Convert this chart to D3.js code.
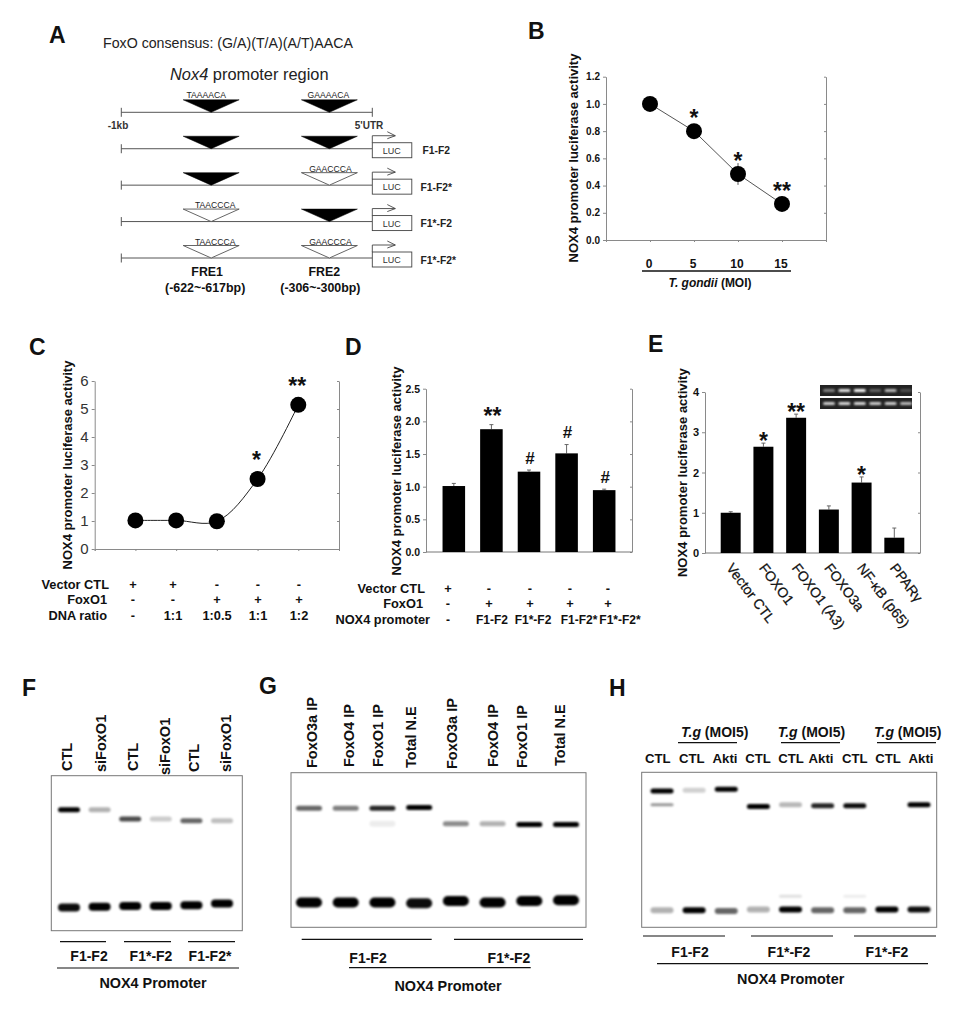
<!DOCTYPE html>
<html>
<head>
<meta charset="utf-8">
<script src="https://cdn.jsdelivr.net/npm/d3@7"></script>
<style>
  body { margin: 0; background: #fff; }
  svg { display: block; }
  text { font-family: "Liberation Sans", Arial, sans-serif; fill: #111; }
  .b { font-weight: bold; }
</style>
</head>
<body>
<div id="chart"></div>
<script>
// panel A: promoter constructs
const siteBp = [-642, -171];
const constructs = ['F1-F2', 'F1-F2*', 'F1*-F2', 'F1*-F2*'];
const site1Wild = [true, true, false, false];
const site2Wild = [true, false, true, false];
const wildSeqs = ['TAAAACA', 'GAAAACA'];
const mutSeqs = ['TAACCCA', 'GAACCCA'];
const freNames = ['FRE1', 'FRE2'];
const freRanges = ['(-622~-617bp)', '(-306~-300bp)'];

// panel B
const bCats = ['0', '5', '10', '15'];
const bValues = [1.0, 0.8, 0.485, 0.265];
const bErrors = [0.01, 0.01, 0.08, 0.01];
const bSig = ['', '*', '*', '**'];
const bTicks = [0, 0.2, 0.4, 0.6, 0.8, 1.0, 1.2];

// panel C
const cCats = ['c1', 'c2', 'c3', 'c4', 'c5'];
const cValues = [1.02, 1.02, 0.99, 2.5, 5.15];
const cSig = ['', '', '', '*', '**'];
const cTicks = [0, 1, 2, 3, 4, 5, 6];
const cRowNames = ['Vector CTL', 'FoxO1', 'DNA ratio'];
const cVector = ['+', '+', '-', '-', '-'];
const cFoxo = ['-', '-', '+', '+', '+'];
const cRatio = ['-', '1:1', '1:0.5', '1:1', '1:2'];

// panel D
const dCats = ['d1', 'd2', 'd3', 'd4', 'd5'];
const dValues = [1.01, 1.88, 1.23, 1.51, 0.947];
const dErrors = [0.04, 0.07, 0.025, 0.135, 0.015];
const dSig = ['', '**', '#', '#', '#'];
const dTicks = [0, 0.5, 1.0, 1.5, 2.0, 2.5];
const dRowNames = ['Vector CTL', 'FoxO1', 'NOX4 promoter'];
const dVector = ['+', '-', '-', '-', '-'];
const dFoxo = ['-', '+', '+', '+', '+'];
const dPromoter = ['-', 'F1-F2', 'F1*-F2', 'F1-F2*', 'F1*-F2*'];

// panel E
const eCats = ['Vector CTL', 'FOXO1', 'FOXO1 (A3)', 'FOXO3a', 'NF-\u03BAB (p65)', 'PPAR\u03B3'];
const eValues = [1.0, 2.64, 3.36, 1.08, 1.75, 0.38];
const eErrors = [0.025, 0.09, 0.09, 0.09, 0.14, 0.24];
const eSig = ['', '*', '**', '', '*', ''];
const eTicks = [0, 1, 2, 3, 4];
const eInsetTop = [0.45, 0.9, 1, 0.3, 0.7, 0.2];
const eInsetBottom = [0.8, 0.85, 0.85, 0.8, 0.8, 0.7];

// panel F gel (migration in % of gel height)
const fLanes = ['CTL', 'siFoxO1', 'CTL', 'siFoxO1', 'CTL', 'siFoxO1'];
const fUpperMig = [22, 22, 28, 28, 29, 29];
const fUpper = [1, 0.3, 0.7, 0.2, 0.6, 0.25];
const fLowerMig = [85, 84.5, 84, 84, 83.5, 82.5];
const fLower = [0.95, 1, 1, 1, 1, 1];
const fGroups = ['F1-F2', 'F1*-F2', 'F1-F2*'];

// panel G gel
const gLanes = ['FoxO3a IP', 'FoxO4 IP', 'FoxO1 IP', 'Total N.E', 'FoxO3a IP', 'FoxO4 IP', 'FoxO1 IP', 'Total N.E'];
const gUpperMig = [23, 23, 23, 22.5, 33, 33, 33.5, 33.5];
const gUpper = [0.6, 0.5, 0.85, 1, 0.45, 0.3, 1, 1];
const gLowerMig = [84, 84, 84, 84.5, 83, 84, 83, 82.5];
const gLower = [1, 1, 1, 0.95, 1, 1, 1, 1];
const gFaintMig = [0, 0, 33, 0, 0, 0, 0, 0];
const gFaint = [0, 0, 0.07, 0, 0, 0, 0, 0];
const gGroups = ['F1-F2', 'F1*-F2'];

// panel H gel
const hLanes = ['CTL', 'CTL', 'Akti', 'CTL', 'CTL', 'Akti', 'CTL', 'CTL', 'Akti'];
const hUpperMig = [12, 11.5, 11, 22, 21, 21.5, 21.5, 21, 21];
const hUpper = [1, 0.18, 1, 1, 0.28, 0.85, 0.95, 0, 1];
const hLowerMig = [89, 89, 89.5, 88.5, 88.5, 89, 89, 88.5, 88.5];
const hLower = [0.3, 1, 0.6, 0.3, 1, 0.6, 0.6, 1, 0.95];
const hExtraMig = [21, 0, 0, 0, 80, 0, 80, 0, 0];
const hExtra = [0.4, 0, 0, 0, 0.12, 0, 0.07, 0, 0];
const hGroups = ['F1-F2', 'F1*-F2', 'F1*-F2'];

const svg = d3.select('#chart').append('svg')
  .attr('width', 967)
  .attr('height', 1030);

const defs = svg.append('defs');
defs.append('filter').attr('id', 'blur')
  .attr('x', '-30%').attr('y', '-80%').attr('width', '160%').attr('height', '260%')
  .append('feGaussianBlur').attr('stdDeviation', 1.2);
defs.append('filter').attr('id', 'blurInset')
  .attr('x', '-30%').attr('y', '-80%').attr('width', '160%').attr('height', '260%')
  .append('feGaussianBlur').attr('stdDeviation', 0.8);

function label(x, y, str, size, opts) {
  const o = opts || {};
  const t = svg.append('text')
    .attr('x', x)
    .attr('y', y)
    .attr('font-size', size)
    .attr('font-weight', o.weight || 'bold')
    .attr('text-anchor', o.anchor || 'middle')
    .text(str);
  if (o.rotate) t.attr('transform', `rotate(${o.rotate},${x},${y})`);
  if (o.fill) t.style('fill', o.fill);
  return t;
}

function hline(x1, x2, y, w) {
  svg.append('line')
    .attr('x1', x1).attr('x2', x2)
    .attr('y1', y).attr('y2', y)
    .attr('stroke', '#111')
    .attr('stroke-width', w || 1.2);
}

// letters
[['A', 49, 43], ['B', 528, 39], ['C', 29, 355], ['D', 345, 355], ['E', 648, 352],
  ['F', 22, 696], ['G', 259, 694], ['H', 609, 696]].forEach(d => {
  label(d[1], d[2], d[0], 23, {anchor: 'start'});
});

// axes frame shared by B, C, D, E
function frame(x, y, ticks, fmt, size, weight, color) {
  const r = x.range();
  const g = svg.append('g');
  const left = g.append('g')
    .attr('transform', `translate(${r[0]},0)`)
    .call(d3.axisLeft(y).tickValues(ticks).tickFormat(fmt).tickSize(3).tickPadding(3).tickSizeOuter(0));
  left.selectAll('text')
    .attr('font-size', size)
    .attr('font-weight', weight)
    .style('fill', color);
  g.append('g')
    .attr('transform', `translate(${r[1]},0)`)
    .call(d3.axisRight(y).tickValues(ticks).tickFormat('').tickSize(-2).tickSizeOuter(0));
  g.selectAll('path, line').attr('stroke', '#8a8a8a');
  return g;
}

function bottomLine(x, y) {
  const r = x.range();
  const y0 = y.range()[0];
  svg.append('line')
    .attr('x1', r[0]).attr('x2', r[1])
    .attr('y1', y0).attr('y2', y0)
    .attr('stroke', '#777');
}

function stars(xs, ys, sig, gap) {
  // gap is the distance from the anchor height up to the middle of the symbol
  sig.forEach((s, i) => {
    if (!s) return;
    if (s.indexOf('#') >= 0) {
      label(xs[i], ys[i] - gap + 6, s, 17);
    } else {
      label(xs[i], ys[i] - gap + 12, s, 23);
    }
  });
}

function rows(names, rightX, baselines, columns, xs, size) {
  names.forEach((n, i) => {
    label(rightX[i], baselines[i], n, size, {anchor: 'end'});
    svg.append('g').selectAll('text')
      .data(columns[i])
      .enter().append('text')
      .attr('class', 'b')
      .attr('x', (d, j) => xs[j])
      .attr('y', baselines[i])
      .attr('font-size', size)
      .attr('text-anchor', 'middle')
      .text(d => d);
  });
}

function yName(x, yc) {
  label(x, yc, 'NOX4 promoter luciferase activity', 13, {rotate: -90});
}

// ---- panel A
function drawA() {
  label(103, 48, 'FoxO consensus: (G/A)(T/A)(A/T)AACA', 14.2, {anchor: 'start', weight: 'normal', fill: '#222'});
  const head = label(170, 80, '', 16.4, {anchor: 'start', weight: 'normal', fill: '#222'});
  head.append('tspan').attr('font-style', 'italic').text('Nox4');
  head.append('tspan').text(' promoter region');

  const bp = d3.scaleLinear().domain([-1000, 0]).range([121.3, 372.3]);
  const rowY = d3.scalePoint().domain(['map'].concat(constructs)).range([112.3, 258]);

  function site(y, i, wild) {
    const cx = bp(siteBp[i]);
    const pts = [[cx - 28, y - 12.5], [cx + 28, y - 12.5], [cx, y]];
    svg.append('polygon')
      .attr('points', pts.join(' '))
      .attr('fill', wild ? '#000' : '#fff')
      .attr('stroke', wild ? '#000' : '#555')
      .attr('stroke-width', wild ? 0.5 : 0.9);
  }

  rowY.domain().forEach(name => {
    const y = rowY(name);
    svg.append('line').attr('x1', bp(-1000)).attr('x2', bp(0)).attr('y1', y).attr('y2', y)
      .attr('stroke', '#555').attr('stroke-width', 1);
    svg.append('line').attr('x1', bp(-1000)).attr('x2', bp(-1000)).attr('y1', y - 4.5).attr('y2', y + 4.5)
      .attr('stroke', '#555').attr('stroke-width', 1);
  });

  // the reference map on top
  const mapY = rowY('map');
  svg.append('line').attr('x1', bp(0)).attr('x2', bp(0)).attr('y1', mapY - 4.5).attr('y2', mapY + 4.5)
    .attr('stroke', '#555');
  [0, 1].forEach(i => {
    site(mapY, i, true);
    label(bp(siteBp[i]) - 5 + i * 4, mapY - 14.5, wildSeqs[i], 8.6, {weight: 'normal', fill: '#222'});
  });
  label(118, 129, '-1kb', 10, {fill: '#333'});
  label(369, 129, "5'UTR", 10, {fill: '#333'});

  constructs.forEach((name, r) => {
    const y = rowY(name);
    [site1Wild[r], site2Wild[r]].forEach((wild, i) => {
      site(y, i, wild);
      if (!wild) label(bp(siteBp[i]) + 4 - i * 3, y - 13.5, mutSeqs[i], 8.6, {weight: 'normal', fill: '#222'});
    });
    const bx = bp(0);
    svg.append('rect').attr('x', bx).attr('y', y - 6).attr('width', 39.5).attr('height', 15)
      .attr('fill', '#fff').attr('stroke', '#444').attr('stroke-width', 0.9);
    label(bx + 19.5, y + 5, 'LUC', 9, {weight: 'normal', fill: '#333'});
    svg.append('path')
      .attr('d', `M${bx},${y - 6}V${y - 13}H${bx + 23}M${bx + 15},${y - 17}L${bx + 23},${y - 13}L${bx + 15},${y - 10}`)
      .attr('fill', 'none').attr('stroke', '#444').attr('stroke-width', 0.9);
    label(420.5 + (r === 0 ? 2 : 0), y + 5.5, name, 10.3, {anchor: 'start', fill: '#222'});
  });

  [0, 1].forEach(i => {
    label(bp(siteBp[i]) - 4 - i, 276, freNames[i], 12.4);
    label(bp(siteBp[i]) - 6 - i * 3, 292, freRanges[i], 12.4);
  });
}

// ---- panel B
function drawB() {
  const x = d3.scalePoint().domain(['lo'].concat(bCats, ['hi'])).range([606, 826]);
  const y = d3.scaleLinear().domain([0, 1.2]).range([240, 76.7]);
  frame(x, y, bTicks, d3.format('.1f'), 10, 'bold', '#111');
  svg.append('g')
    .attr('transform', 'translate(0,240)')
    .call(d3.axisBottom(x).tickFormat('').tickSize(2))
    .selectAll('path, line').attr('stroke', '#8a8a8a');

  svg.append('path')
    .datum(bValues)
    .attr('d', d3.line().x((d, i) => x(bCats[i])).y(d => y(d)))
    .attr('fill', 'none').attr('stroke', '#555').attr('stroke-width', 1);
  bValues.forEach((v, i) => {
    svg.append('line').attr('x1', x(bCats[i])).attr('x2', x(bCats[i]))
      .attr('y1', y(v - bErrors[i])).attr('y2', y(v + bErrors[i])).attr('stroke', '#555');
  });
  svg.append('g').selectAll('circle')
    .data(bValues).enter().append('circle')
    .attr('cx', (d, i) => x(bCats[i]))
    .attr('cy', d => y(d))
    .attr('r', 8)
    .attr('fill', '#000');
  stars(bCats.map(c => x(c)), bValues.map(v => y(v)), bSig, 17);

  bCats.forEach(c => label(x(c) - 1, 268, c, 12));
  hline(642, 791, 271, 1.6);
  const t = label(710, 287, '', 12);
  t.append('tspan').attr('font-style', 'italic').text('T. gondii');
  t.append('tspan').text(' (MOI)');
  yName(578, 158);
}

// ---- panel C
function drawC() {
  const x = d3.scalePoint().domain(['lo'].concat(cCats, ['hi'])).range([94.7, 339]);
  const y = d3.scaleLinear().domain([0, 6]).range([549, 381]);
  frame(x, y, cTicks, d3.format('d'), 15, 'normal', '#333');
  svg.append('g')
    .attr('transform', 'translate(0,549)')
    .call(d3.axisBottom(x).tickFormat('').tickSize(2))
    .selectAll('path, line').attr('stroke', '#8a8a8a');

  svg.append('path')
    .datum(cValues)
    .attr('d', d3.line().curve(d3.curveCatmullRom).x((d, i) => x(cCats[i])).y(d => y(d)))
    .attr('fill', 'none').attr('stroke', '#222').attr('stroke-width', 1);
  svg.append('g').selectAll('circle')
    .data(cValues).enter().append('circle')
    .attr('cx', (d, i) => x(cCats[i]))
    .attr('cy', d => y(d))
    .attr('r', 8)
    .attr('fill', '#000');
  stars(cCats.map(c => x(c) - 1), cValues.map(v => y(v)), cSig, 23);
  yName(71.7, 465);
  rows(cRowNames, [109, 107, 107], [589, 604, 620], [cVector, cFoxo, cRatio], [133, 173, 217, 258, 299], 12.8);
}

// bar panels D and E
function bars(x, y, cats, values, errors) {
  const g = svg.append('g');
  g.selectAll('line')
    .data(values).enter().append('line')
    .attr('x1', (d, i) => x(cats[i]) + x.bandwidth() / 2)
    .attr('x2', (d, i) => x(cats[i]) + x.bandwidth() / 2)
    .attr('y1', d => y(d))
    .attr('y2', (d, i) => y(d + errors[i]))
    .attr('stroke', '#666');
  g.selectAll('.cap')
    .data(values).enter().append('line')
    .attr('class', 'cap')
    .attr('x1', (d, i) => x(cats[i]) + x.bandwidth() / 2 - 2)
    .attr('x2', (d, i) => x(cats[i]) + x.bandwidth() / 2 + 2)
    .attr('y1', (d, i) => y(d + errors[i]))
    .attr('y2', (d, i) => y(d + errors[i]))
    .attr('stroke', '#666');
  g.selectAll('rect')
    .data(values).enter().append('rect')
    .attr('x', (d, i) => x(cats[i]))
    .attr('y', d => y(d))
    .attr('width', x.bandwidth())
    .attr('height', d => y(0) - y(d))
    .attr('fill', '#000');
}

function drawD() {
  const x = d3.scaleBand().domain(dCats).range([426, 632]).paddingInner(0.4).paddingOuter(0.44);
  const y = d3.scaleLinear().domain([0, 2.5]).range([552, 388.7]);
  frame(x, y, dTicks, d3.format('.1f'), 10.5, 'bold', '#111');
  bottomLine(x, y);
  bars(x, y, dCats, dValues, dErrors);
  stars(dCats.map(c => x(c) + x.bandwidth() / 2 + 1), dValues.map((v, i) => y(v + dErrors[i])), dSig, 12.5);
  yName(401, 471);
  rows(dRowNames, [425, 423, 430], [593, 608, 624], [dVector, dFoxo, []], [448, 489, 530, 570, 608], 12.8);
  [448, 492, 533, 579, 620].forEach((px, i) => label(px, 624, dPromoter[i], 12));
}

function drawE() {
  const x = d3.scaleBand().domain(eCats).range([705, 920]).paddingInner(0.39).paddingOuter(0.48);
  const y = d3.scaleLinear().domain([0, 4]).range([553, 392]);
  frame(x, y, eTicks, d3.format('d'), 11, 'bold', '#111');
  bottomLine(x, y);
  bars(x, y, eCats, eValues, eErrors);
  stars(eCats.map(c => x(c) + x.bandwidth() / 2), eValues.map((v, i) => y(v + eErrors[i])), eSig, 6);
  yName(686.7, 472.7);
  eCats.forEach(c => {
    label(x(c) + x.bandwidth() / 2 - 5, 568, c, 14, {anchor: 'start', weight: 'normal', rotate: 53})
      .attr('stroke', '#111').attr('stroke-width', 0.25);
  });

  // inset blot
  const lane = d3.scalePoint().domain(eCats).range([829, 906]);
  [[385, 11, eInsetTop], [398, 11, eInsetBottom]].forEach(s => {
    svg.append('rect').attr('x', 820).attr('y', s[0]).attr('width', 92).attr('height', s[1]).attr('fill', '#222');
    svg.append('g').selectAll('rect')
      .data(s[2]).enter().append('rect')
      .attr('x', (d, i) => lane(eCats[i]) - 6)
      .attr('y', s[0] + 4)
      .attr('width', 12)
      .attr('height', 3)
      .attr('rx', 1.5)
      .attr('fill', '#fff')
      .attr('opacity', d => d)
      .attr('filter', 'url(#blurInset)');
  });
}

// ---- gels
function gel(box, laneRange, laneCount, bandW, bandH, sets) {
  svg.append('rect')
    .attr('x', box[0]).attr('y', box[1])
    .attr('width', box[2] - box[0]).attr('height', box[3] - box[1])
    .attr('fill', '#fff').attr('stroke', '#777').attr('stroke-width', 1);
  const lane = d3.scalePoint().domain(d3.range(laneCount)).range(laneRange);
  const mig = d3.scaleLinear().domain([0, 100]).range([box[1], box[3]]);
  sets.forEach(s => {
    const h = s.h || bandH;
    svg.append('g').selectAll('rect')
      .data(s.values).enter().append('rect')
      .attr('x', (d, i) => lane(i) - bandW / 2)
      .attr('y', (d, i) => mig(s.mig[i]) - h / 2)
      .attr('width', bandW)
      .attr('height', h)
      .attr('rx', h / 2)
      .attr('fill', '#000')
      .attr('opacity', d => d)
      .attr('filter', 'url(#blur)');
  });
}

function drawF() {
  gel([51.3, 775.7, 242.3, 930.7], [69, 222], 6, 22, 5, [
    {values: fUpper, mig: fUpperMig},
    {values: fLower, mig: fLowerMig, h: 8}
  ]);
  const xs = [72, 106, 138, 170, 199, 231];
  const ends = [771, 772, 771, 775, 772, 772];
  fLanes.forEach((n, i) => label(xs[i], ends[i], n, 14.5, {anchor: 'start', rotate: -90}));
  [[60, 106], [124, 171], [188, 235]].forEach(s => hline(s[0], s[1], 941.7));
  [89, 151, 210].forEach((px, i) => label(px, 961, fGroups[i], 14));
  hline(57, 239, 968);
  label(153, 988, 'NOX4 Promoter', 14.4);
}

function drawG() {
  gel([291, 772.7, 586, 927.3], [309, 566], 8, 26, 5, [
    {values: gUpper, mig: gUpperMig},
    {values: gFaint, mig: gFaintMig, h: 6},
    {values: gLower, mig: gLowerMig, h: 10}
  ]);
  const xs = [316.7, 354, 382.7, 415.7, 456.7, 498, 526.7, 565];
  const ends = [768, 767, 767, 768, 769, 767, 768, 766];
  gLanes.forEach((n, i) => label(xs[i], ends[i], n, 14.5, {anchor: 'start', rotate: -90}));
  hline(301.7, 431.7, 939.3);
  hline(454, 583, 939.3);
  [368, 509].forEach((px, i) => label(px, 963, gGroups[i], 14));
  hline(349, 530.7, 967.7);
  label(448, 991, 'NOX4 Promoter', 14.4);
}

function drawH() {
  gel([641.7, 772.3, 936.7, 927.3], [662, 919], 9, 23, 5, [
    {values: hUpper, mig: hUpperMig},
    {values: hExtra, mig: hExtraMig, h: 3},
    {values: hLower, mig: hLowerMig, h: 6}
  ]);
  [681, 777.7, 874].forEach(px => {
    const t = label(px, 737, '', 14, {anchor: 'start'});
    t.append('tspan').attr('font-style', 'italic').text('T.g');
    t.append('tspan').text(' (MOI5)');
  });
  [[678, 737], [781, 840], [877, 936]].forEach(s => hline(s[0], s[1], 742.7));
  [657.7, 691.7, 725, 758, 791, 821, 854.7, 888, 921].forEach((px, i) => {
    label(px, 763, hLanes[i], 13.2);
  });
  [[643, 725], [751, 833], [854, 936]].forEach(s => hline(s[0], s[1], 936));
  [690, 789, 887].forEach((px, i) => label(px, 957, hGroups[i], 14));
  hline(657, 928, 963.7);
  label(790.7, 984, 'NOX4 Promoter', 14.4);
}

drawA();
drawB();
drawC();
drawD();
drawE();
drawF();
drawG();
drawH();
</script>
</body>
</html>
